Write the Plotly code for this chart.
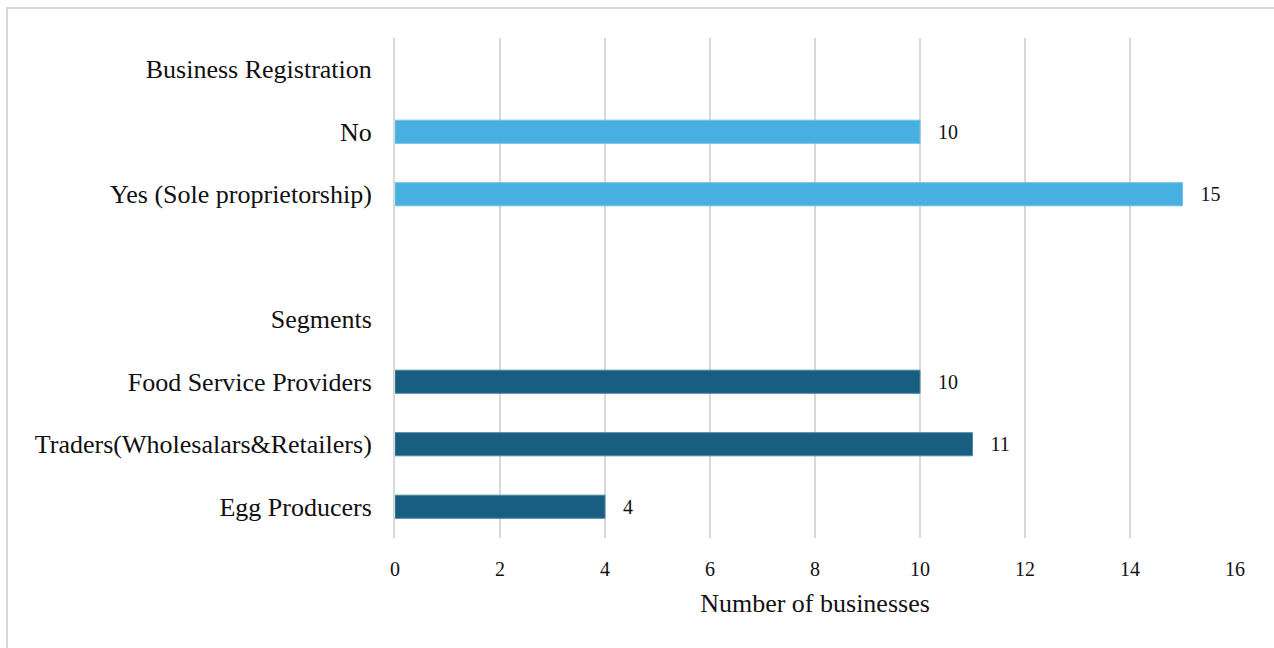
import plotly.graph_objects as go

# Row order from top to bottom
rows = ["Business Registration", "No", "Yes (Sole proprietorship)", " ",
        "Segments", "Food Service Providers", "Traders(Wholesalars&Retailers)", "Egg Producers"]

reg_labels = ["No", "Yes (Sole proprietorship)"]
reg_values = [10, 15]

seg_labels = ["Food Service Providers", "Traders(Wholesalars&Retailers)", "Egg Producers"]
seg_values = [10, 11, 4]

x_ticks = [0, 2, 4, 6, 8, 10, 12, 14, 16]

FONT = "Liberation Serif, Times New Roman, serif"

fig = go.Figure()
fig.add_trace(go.Bar(
    y=reg_labels, x=reg_values, orientation="h",
    marker=dict(color="#48B0E0", line=dict(width=1, color="#6CC0E8")),
    text=reg_values, texttemplate="   %{x}", textposition="outside",
    textfont=dict(family=FONT, size=20, color="#111111"),
    cliponaxis=False, hoverinfo="x+y",
))
fig.add_trace(go.Bar(
    y=seg_labels, x=seg_values, orientation="h",
    marker=dict(color="#175E80", line=dict(width=1, color="#4A86A3")),
    text=seg_values, texttemplate="   %{x}", textposition="outside",
    textfont=dict(family=FONT, size=20, color="#111111"),
    cliponaxis=False, hoverinfo="x+y",
))

fig.update_layout(
    width=1274, height=648,
    margin=dict(l=395, r=39, t=38, b=110),
    paper_bgcolor="white", plot_bgcolor="white",
    barmode="overlay", bargap=0.63,
    showlegend=False,
    font=dict(family=FONT, color="#111111"),
    xaxis=dict(
        range=[0, 16], tickvals=x_ticks, showgrid=True,
        gridcolor="#D9D9D9", gridwidth=2,
        zeroline=False,
        showline=False, ticks="", tickfont=dict(size=20),
        ticklabelstandoff=17,
        title=dict(text="Number of businesses", font=dict(size=26), standoff=14),
    ),
    yaxis=dict(
        type="category", categoryorder="array", categoryarray=rows[::-1],
        range=[-0.5, len(rows) - 0.5],
        showgrid=False, zeroline=False,
        showline=True, linecolor="#D9D9D9", linewidth=2,
        ticks="", tickfont=dict(size=26), ticklabelstandoff=16,
    ),
    shapes=[dict(
        type="rect", xref="paper", yref="paper",
        x0=(7 - 395) / 840, x1=(1276 - 395) / 840,
        y0=(538 - 652) / 500, y1=1 + (38 - 8) / 500,
        line=dict(color="#D9D9D9", width=2), fillcolor="rgba(0,0,0,0)",
        layer="below",
    )],
)

fig.write_html("out.html")
